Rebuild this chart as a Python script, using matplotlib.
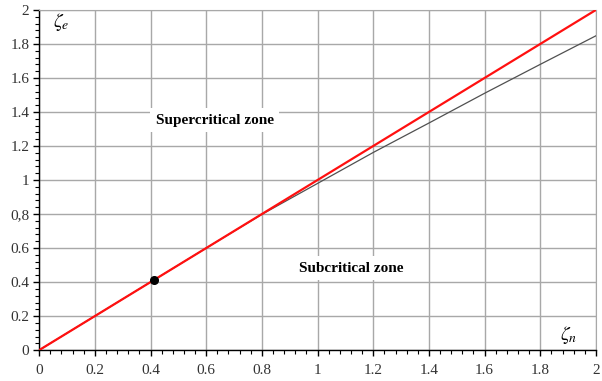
import numpy as np
import matplotlib.pyplot as plt
from matplotlib.ticker import MultipleLocator, FixedLocator, FixedFormatter

plt.rcParams['font.family'] = ['Liberation Serif', 'DejaVu Serif']
plt.rcParams['mathtext.fontset'] = 'stix'

# red boundary line zeta_e = zeta_n
red_x = [0.0, 2.0]
red_y = [0.0, 2.0]

# black curve
black_x = [0.0, 0.2, 0.414, 0.6, 0.8, 1.0, 1.2, 1.4, 1.6, 1.8, 2.0]
black_y = [0.0, 0.2, 0.414, 0.6, 0.798, 0.98, 1.162, 1.335, 1.51, 1.68, 1.848]

# marked point
point_x = [0.414]
point_y = [0.414]

xticks = [0, 0.2, 0.4, 0.6, 0.8, 1, 1.2, 1.4, 1.6, 1.8, 2]
xlabels = ['0', '0.2', '0.4', '0.6', '0.8', '1', '1.2', '1.4', '1.6', '1.8', '2']
yticks = [0, 0.2, 0.4, 0.6, 0.8, 1, 1.2, 1.4, 1.6, 1.8, 2]
ylabels = ['0', '0.2', '0.4', '0.6', '0,8', '1', '1.2', '1.4', '1.6', '1.8', '2']

fig = plt.figure(figsize=(6.02, 3.81), dpi=100)
ax = fig.add_axes([0.065, 0.081, 0.925, 0.893])

ax.plot(black_x, black_y, color='#505050', lw=0.9, zorder=3)
ax.plot(red_x, red_y, color='#ff1010', lw=1.6, zorder=4)
ax.plot(point_x, point_y, 'o', color='black', ms=5.5, zorder=5)

ax.set_xlim(0, 2)
ax.set_ylim(0, 2)
ax.xaxis.set_major_locator(FixedLocator(xticks))
ax.xaxis.set_major_formatter(FixedFormatter(xlabels))
ax.yaxis.set_major_locator(FixedLocator(yticks))
ax.yaxis.set_major_formatter(FixedFormatter(ylabels))
ax.xaxis.set_minor_locator(MultipleLocator(0.04))
ax.yaxis.set_minor_locator(MultipleLocator(0.04))
ax.tick_params(which='major', direction='out', length=4, width=1, labelsize=11,
               colors='black', labelcolor='#333333')
ax.tick_params(which='minor', direction='out', length=3, width=0.8)
ax.tick_params(axis='x', pad=6)
ax.tick_params(axis='y', pad=3)

ax.grid(True, which='major', color='#a8a8a8', lw=1.0)
ax.set_axisbelow(True)
for s in ['top', 'right']:
    ax.spines[s].set_color('#a8a8a8')
for s in ['left', 'bottom']:
    ax.spines[s].set_color('black')
    ax.spines[s].set_linewidth(1.0)

ax.text(0.05, 1.93, r'$\zeta_e$', fontsize=14, ha='left', va='center')
ax.text(1.87, 0.09, r'$\zeta_n$', fontsize=14, ha='left', va='center')

ax.text(0.63, 1.35, 'Supercritical zone', fontsize=11, fontweight='bold',
        ha='center', va='center', zorder=2,
        bbox=dict(facecolor='white', edgecolor='none', pad=4))
ax.text(1.12, 0.48, 'Subcritical zone', fontsize=11, fontweight='bold',
        ha='center', va='center', zorder=2,
        bbox=dict(facecolor='white', edgecolor='none', pad=4))

fig.savefig('out.png', dpi=100)
